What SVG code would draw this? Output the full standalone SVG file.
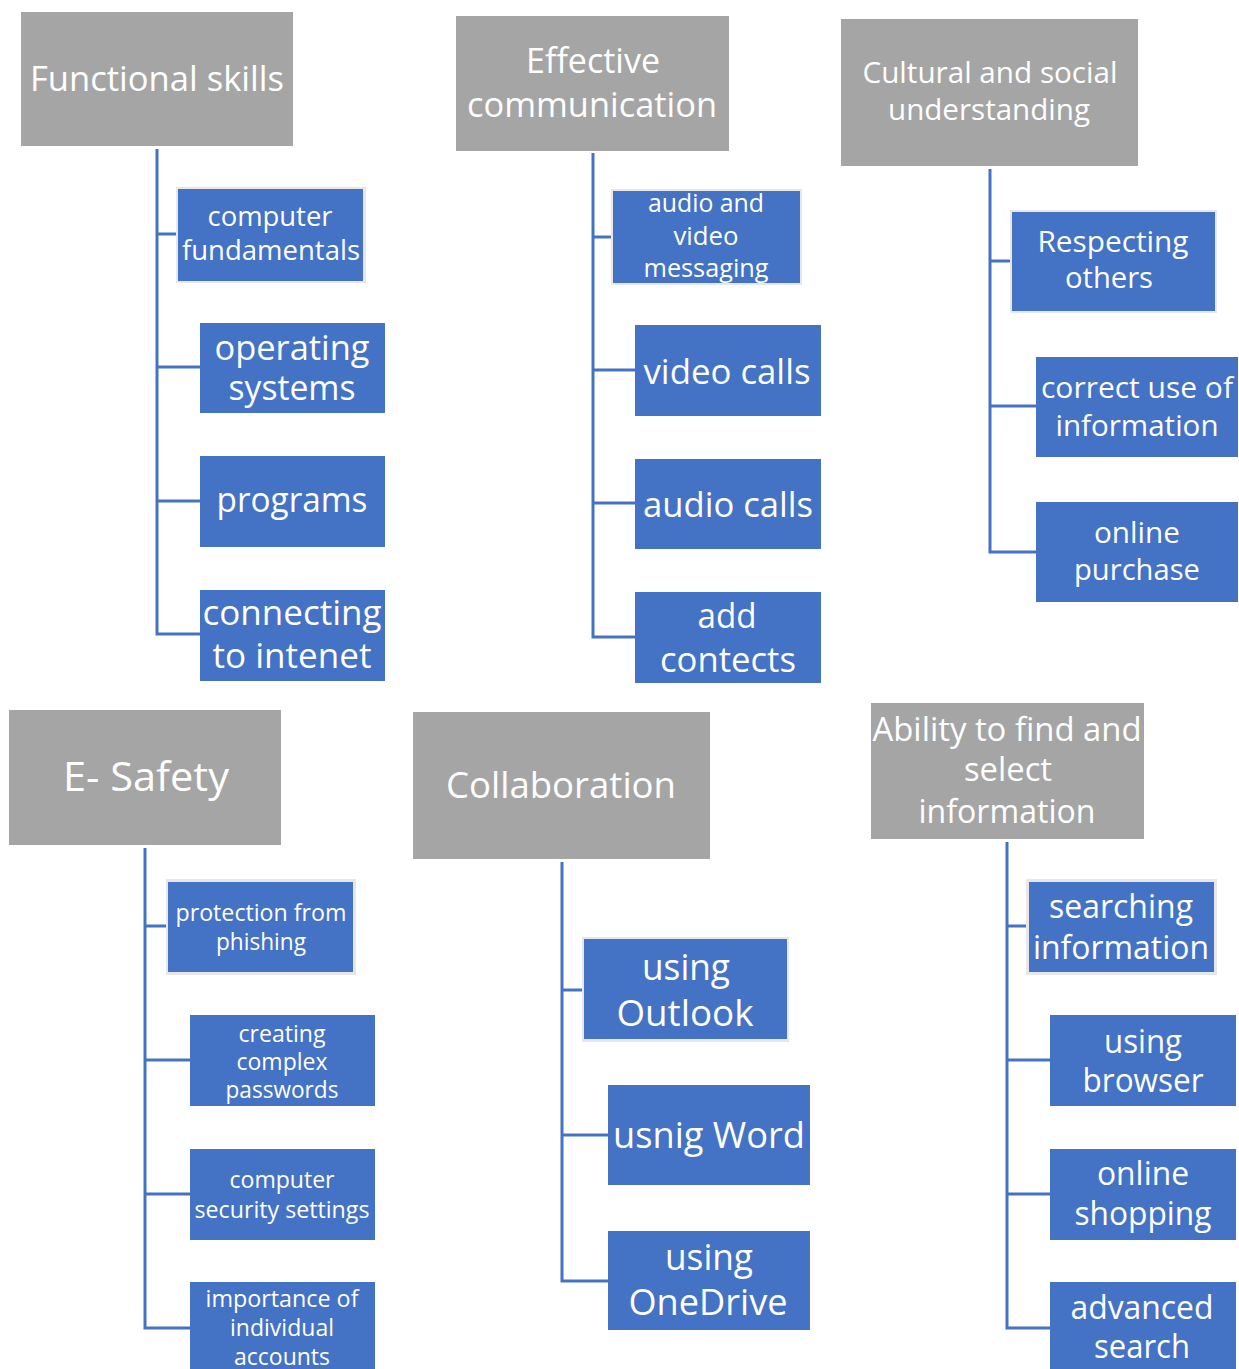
<svg xmlns="http://www.w3.org/2000/svg" width="1239" height="1369" viewBox="0 0 1239 1369">
<style>
.hd{fill:#A5A5A5}
.bx{fill:#4472C4}
.bd{fill:#E7E7E7}
.t{font-family:"Open Sans","Liberation Sans",sans-serif;fill:#FFFFFF;text-anchor:middle}
.cn{fill:none;stroke:#4472C4;stroke-width:3}
</style>
<rect width="1239" height="1369" fill="#FFFFFF"/>
<g id="connectors">
<path class="cn" d="M157 149V634H200M157 234H176M157 367H200M157 501H200"/>
<path class="cn" d="M593 153V637H635M593 237H611M593 370H635M593 503H635"/>
<path class="cn" d="M990 169V552H1036M990 261H1010M990 406H1036"/>
<path class="cn" d="M145 848V1328H190M145 926H166M145 1060H190M145 1194H190"/>
<path class="cn" d="M562 862V1281H608M562 990H582M562 1135H608"/>
<path class="cn" d="M1007 842V1328H1050M1007 926H1026M1007 1060H1050M1007 1194H1050"/>
</g>
<g id="functional-skills">
<rect class="hd" x="21" y="12" width="272" height="134"/>
<text class="t" font-size="35" x="157" y="91" textLength="254" lengthAdjust="spacingAndGlyphs">Functional skills</text>
</g>
<g id="computer-fundamentals">
<rect class="bd" x="176" y="187" width="190" height="96"/>
<rect class="bx" x="178" y="189" width="185" height="92"/>
<text class="t" font-size="27" x="270" y="226" textLength="125" lengthAdjust="spacingAndGlyphs">computer</text>
<text class="t" font-size="27" x="271" y="260" textLength="178" lengthAdjust="spacingAndGlyphs">fundamentals</text>
</g>
<g id="operating-systems">
<rect class="bx" x="200" y="323" width="185" height="90"/>
<text class="t" font-size="35" x="292" y="360" textLength="155" lengthAdjust="spacingAndGlyphs">operating</text>
<text class="t" font-size="35" x="292" y="400" textLength="127" lengthAdjust="spacingAndGlyphs">systems</text>
</g>
<g id="programs">
<rect class="bx" x="200" y="456" width="185" height="91"/>
<text class="t" font-size="35" x="292" y="512" textLength="151" lengthAdjust="spacingAndGlyphs">programs</text>
</g>
<g id="connecting-to-intenet">
<rect class="bx" x="200" y="590" width="185" height="91"/>
<text class="t" font-size="35" x="292" y="625" textLength="179" lengthAdjust="spacingAndGlyphs">connecting</text>
<text class="t" font-size="35" x="292" y="668" textLength="159" lengthAdjust="spacingAndGlyphs">to intenet</text>
</g>
<g id="effective-communication">
<rect class="hd" x="456" y="16" width="273" height="135"/>
<text class="t" font-size="35" x="593" y="73" textLength="134" lengthAdjust="spacingAndGlyphs">Effective</text>
<text class="t" font-size="35" x="592" y="117" textLength="250" lengthAdjust="spacingAndGlyphs">communication</text>
</g>
<g id="audio-video-messaging">
<rect class="bd" x="611" y="189" width="191" height="96"/>
<rect class="bx" x="613" y="191" width="187" height="92"/>
<text class="t" font-size="25" x="706" y="212" textLength="116" lengthAdjust="spacingAndGlyphs">audio and</text>
<text class="t" font-size="25" x="706" y="245" textLength="65" lengthAdjust="spacingAndGlyphs">video</text>
<text class="t" font-size="25" x="706" y="277" textLength="125" lengthAdjust="spacingAndGlyphs">messaging</text>
</g>
<g id="video-calls">
<rect class="bx" x="635" y="325" width="186" height="91"/>
<text class="t" font-size="35" x="727" y="384" textLength="167" lengthAdjust="spacingAndGlyphs">video calls</text>
</g>
<g id="audio-calls">
<rect class="bx" x="635" y="459" width="186" height="90"/>
<text class="t" font-size="35" x="728" y="517" textLength="170" lengthAdjust="spacingAndGlyphs">audio calls</text>
</g>
<g id="add-contects">
<rect class="bx" x="635" y="592" width="186" height="91"/>
<text class="t" font-size="35" x="727" y="628" textLength="59" lengthAdjust="spacingAndGlyphs">add</text>
<text class="t" font-size="35" x="728" y="672" textLength="136" lengthAdjust="spacingAndGlyphs">contects</text>
</g>
<g id="cultural-social">
<rect class="hd" x="841" y="19" width="297" height="147"/>
<text class="t" font-size="30" x="990" y="83" textLength="255" lengthAdjust="spacingAndGlyphs">Cultural and social</text>
<text class="t" font-size="30" x="989" y="120" textLength="202" lengthAdjust="spacingAndGlyphs">understanding</text>
</g>
<g id="respecting-others">
<rect class="bd" x="1010" y="210" width="207" height="103"/>
<rect class="bx" x="1012" y="212" width="203" height="99"/>
<text class="t" font-size="30" x="1113" y="252" textLength="151" lengthAdjust="spacingAndGlyphs">Respecting</text>
<text class="t" font-size="30" x="1109" y="288" textLength="88" lengthAdjust="spacingAndGlyphs">others</text>
</g>
<g id="correct-use">
<rect class="bx" x="1036" y="357" width="202" height="100"/>
<text class="t" font-size="30" x="1137" y="398" textLength="192" lengthAdjust="spacingAndGlyphs">correct use of</text>
<text class="t" font-size="30" x="1137" y="436" textLength="163" lengthAdjust="spacingAndGlyphs">information</text>
</g>
<g id="online-purchase">
<rect class="bx" x="1036" y="502" width="202" height="100"/>
<text class="t" font-size="30" x="1137" y="543" textLength="86" lengthAdjust="spacingAndGlyphs">online</text>
<text class="t" font-size="30" x="1137" y="580" textLength="126" lengthAdjust="spacingAndGlyphs">purchase</text>
</g>
<g id="e-safety">
<rect class="hd" x="9" y="710" width="272" height="135"/>
<text class="t" font-size="41" x="146" y="791" textLength="166" lengthAdjust="spacingAndGlyphs">E- Safety</text>
</g>
<g id="protection-phishing">
<rect class="bd" x="166" y="879" width="190" height="96"/>
<rect class="bx" x="168" y="882" width="185" height="90"/>
<text class="t" font-size="23" x="261" y="921" textLength="171" lengthAdjust="spacingAndGlyphs">protection from</text>
<text class="t" font-size="23" x="261" y="950" textLength="90" lengthAdjust="spacingAndGlyphs">phishing</text>
</g>
<g id="complex-passwords">
<rect class="bx" x="190" y="1015" width="185" height="91"/>
<text class="t" font-size="23" x="282" y="1042" textLength="87" lengthAdjust="spacingAndGlyphs">creating</text>
<text class="t" font-size="23" x="282" y="1070" textLength="91" lengthAdjust="spacingAndGlyphs">complex</text>
<text class="t" font-size="23" x="282" y="1098" textLength="113" lengthAdjust="spacingAndGlyphs">passwords</text>
</g>
<g id="security-settings">
<rect class="bx" x="190" y="1149" width="185" height="91"/>
<text class="t" font-size="23" x="282" y="1188" textLength="105" lengthAdjust="spacingAndGlyphs">computer</text>
<text class="t" font-size="23" x="282" y="1218" textLength="175" lengthAdjust="spacingAndGlyphs">security settings</text>
</g>
<g id="individual-accounts">
<rect class="bx" x="190" y="1282" width="185" height="91"/>
<text class="t" font-size="23" x="282" y="1307" textLength="153" lengthAdjust="spacingAndGlyphs">importance of</text>
<text class="t" font-size="23" x="282" y="1336" textLength="104" lengthAdjust="spacingAndGlyphs">individual</text>
<text class="t" font-size="23" x="282" y="1365" textLength="96" lengthAdjust="spacingAndGlyphs">accounts</text>
</g>
<g id="collaboration">
<rect class="hd" x="413" y="712" width="297" height="147"/>
<text class="t" font-size="37" x="561" y="798" textLength="230" lengthAdjust="spacingAndGlyphs">Collaboration</text>
</g>
<g id="using-outlook">
<rect class="bd" x="582" y="937" width="207" height="105"/>
<rect class="bx" x="584" y="939" width="203" height="100"/>
<text class="t" font-size="37" x="686" y="980" textLength="88" lengthAdjust="spacingAndGlyphs">using</text>
<text class="t" font-size="37" x="685" y="1026" textLength="137" lengthAdjust="spacingAndGlyphs">Outlook</text>
</g>
<g id="usnig-word">
<rect class="bx" x="608" y="1085" width="202" height="100"/>
<text class="t" font-size="37" x="709" y="1148" textLength="192" lengthAdjust="spacingAndGlyphs">usnig Word</text>
</g>
<g id="using-onedrive">
<rect class="bx" x="608" y="1231" width="202" height="99"/>
<text class="t" font-size="37" x="709" y="1270" textLength="88" lengthAdjust="spacingAndGlyphs">using</text>
<text class="t" font-size="37" x="708" y="1315" textLength="159" lengthAdjust="spacingAndGlyphs">OneDrive</text>
</g>
<g id="ability-find-select">
<rect class="hd" x="871" y="703" width="273" height="136"/>
<text class="t" font-size="33" x="1007" y="741" textLength="269" lengthAdjust="spacingAndGlyphs">Ability to find and</text>
<text class="t" font-size="33" x="1008" y="781" textLength="88" lengthAdjust="spacingAndGlyphs">select</text>
<text class="t" font-size="33" x="1007" y="823" textLength="177" lengthAdjust="spacingAndGlyphs">information</text>
</g>
<g id="searching-information">
<rect class="bd" x="1026" y="879" width="191" height="96"/>
<rect class="bx" x="1029" y="882" width="185" height="90"/>
<text class="t" font-size="33" x="1121" y="918" textLength="144" lengthAdjust="spacingAndGlyphs">searching</text>
<text class="t" font-size="33" x="1121" y="959" textLength="176" lengthAdjust="spacingAndGlyphs">information</text>
</g>
<g id="using-browser">
<rect class="bx" x="1050" y="1015" width="186" height="91"/>
<text class="t" font-size="33" x="1143" y="1053" textLength="78" lengthAdjust="spacingAndGlyphs">using</text>
<text class="t" font-size="33" x="1143" y="1092" textLength="121" lengthAdjust="spacingAndGlyphs">browser</text>
</g>
<g id="online-shopping">
<rect class="bx" x="1050" y="1149" width="186" height="91"/>
<text class="t" font-size="33" x="1143" y="1185" textLength="92" lengthAdjust="spacingAndGlyphs">online</text>
<text class="t" font-size="33" x="1143" y="1225" textLength="137" lengthAdjust="spacingAndGlyphs">shopping</text>
</g>
<g id="advanced-search">
<rect class="bx" x="1050" y="1282" width="186" height="91"/>
<text class="t" font-size="33" x="1142" y="1319" textLength="143" lengthAdjust="spacingAndGlyphs">advanced</text>
<text class="t" font-size="33" x="1142" y="1358" textLength="96" lengthAdjust="spacingAndGlyphs">search</text>
</g>
</svg>
